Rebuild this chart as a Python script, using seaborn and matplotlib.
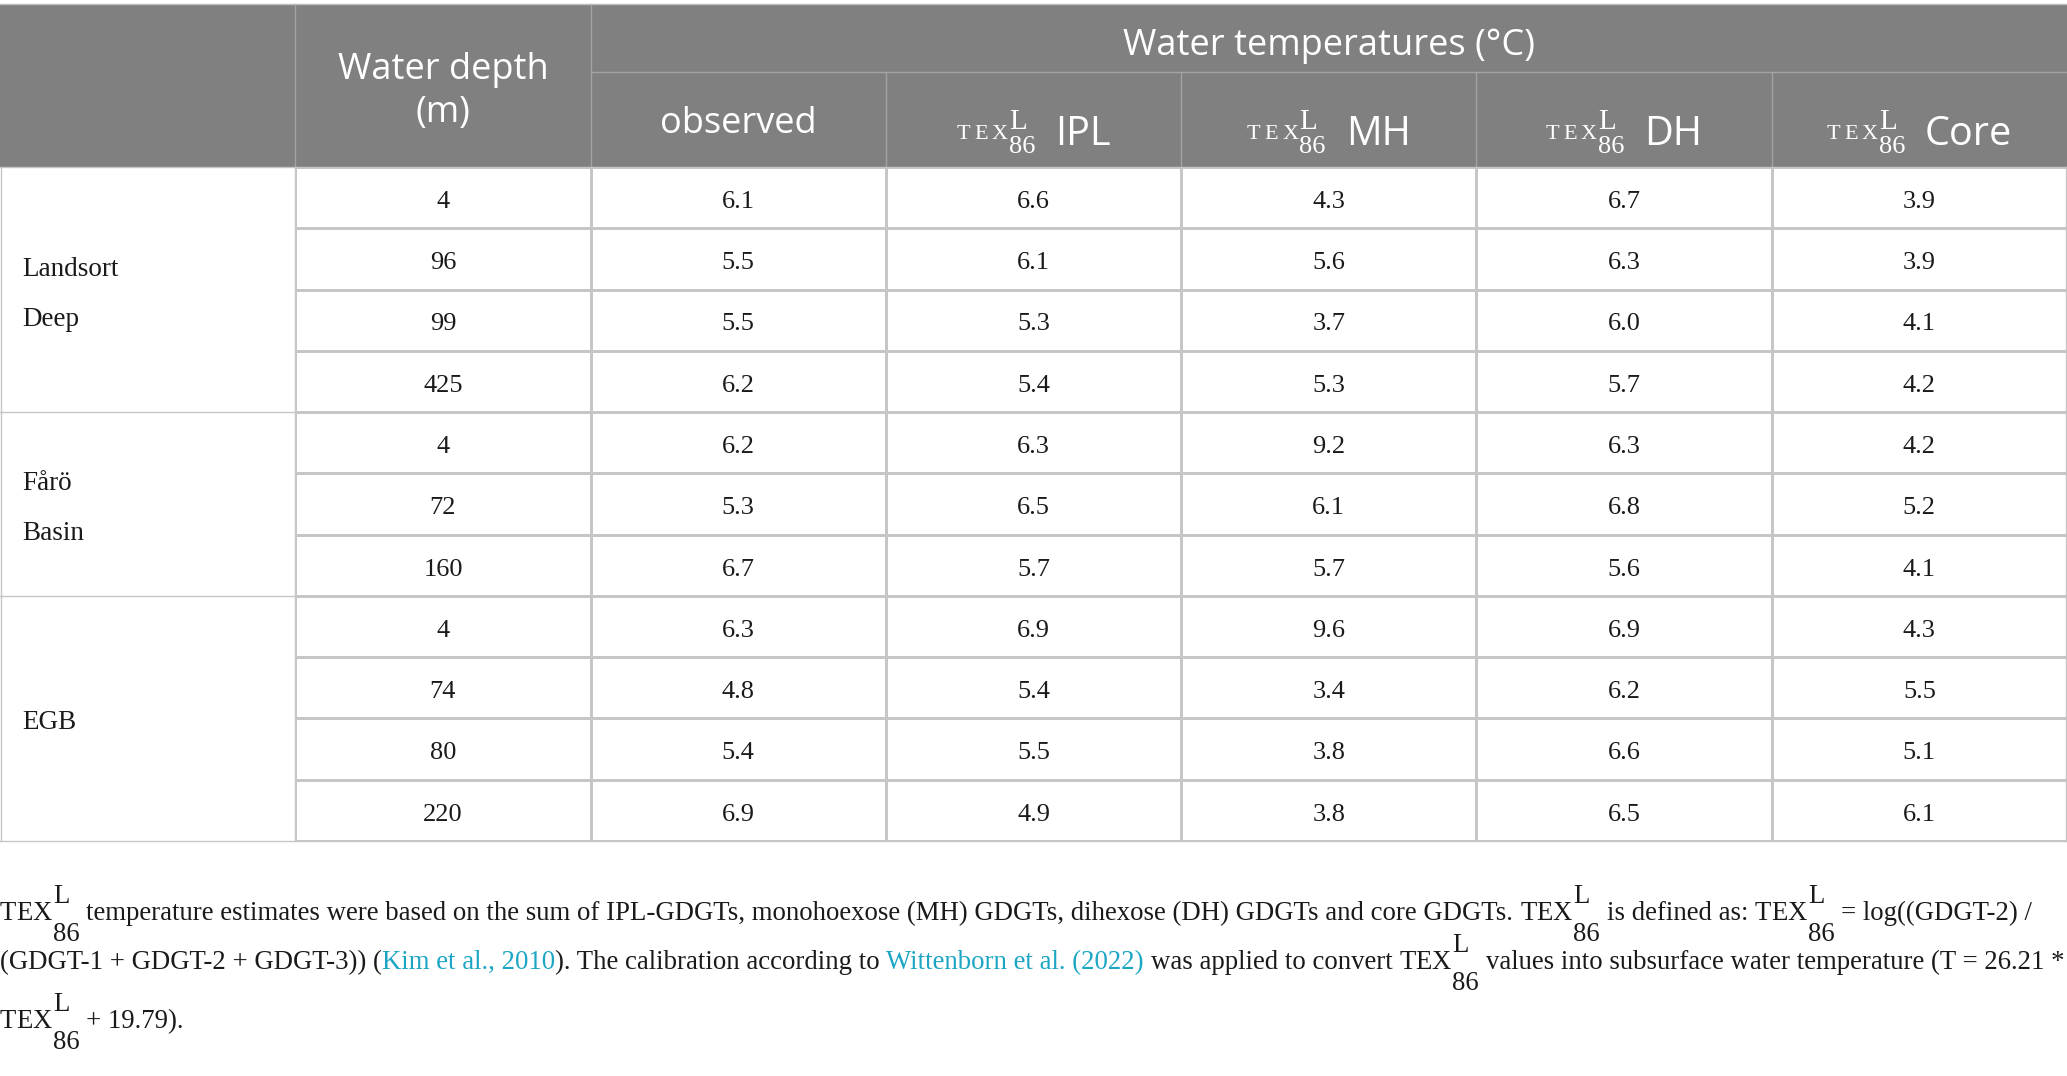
import matplotlib
matplotlib.use('Agg')
import matplotlib.pyplot as plt
import seaborn as sns
import numpy as np
import pandas as pd
from matplotlib.colors import ListedColormap
from matplotlib.patches import Rectangle

# Datos de la tabla
grupos = [['Landsort', 'Deep'], ['Fårö', 'Basin'], ['EGB']]
filas_por_grupo = [4, 3, 4]
profundidad = [4, 96, 99, 425, 4, 72, 160, 4, 74, 80, 220]
observado = [6.1, 5.5, 5.5, 6.2, 6.2, 5.3, 6.7, 6.3, 4.8, 5.4, 6.9]
tex_ipl = [6.6, 6.1, 5.3, 5.4, 6.3, 6.5, 5.7, 6.9, 5.4, 5.5, 4.9]
tex_mh = [4.3, 5.6, 3.7, 5.3, 9.2, 6.1, 5.7, 9.6, 3.4, 3.8, 3.8]
tex_dh = [6.7, 6.3, 6.0, 5.7, 6.3, 6.8, 5.6, 6.9, 6.2, 6.6, 6.5]
tex_core = [3.9, 3.9, 4.1, 4.2, 4.2, 5.2, 4.1, 4.3, 5.5, 5.1, 6.1]
subcolumnas = ['IPL', 'MH', 'DH', 'Core']

# Geometría (en píxeles)
W, H = 2067, 1076
col_x = np.linspace(0, W, 8)  # 7 columnas de igual ancho
y_top, y_mid, y_head, y_end = 4, 72, 167, 841
fila_h = (y_end - y_head) / len(profundidad)

GRIS = '#7f807f'
LINEA = '#c6c6c6'
LINEA_HEAD = '#a3a3a3'
AZUL = '#1ca6c4'
NEGRO = '#1a1a1a'
SERIF = 'Liberation Serif'
SANS = 'Open Sans'

fig = plt.figure(figsize=(W / 100, H / 100), dpi=100)

# Celdas de datos con heatmap de seaborn (todo blanco, solo anotaciones)
df = pd.DataFrame({'depth': profundidad, 'obs': observado, 'ipl': tex_ipl,
                   'mh': tex_mh, 'dh': tex_dh, 'core': tex_core})
etiquetas = np.empty(df.shape, dtype=object)
etiquetas[:, 0] = [str(v) for v in profundidad]
for j, col in enumerate(['obs', 'ipl', 'mh', 'dh', 'core'], start=1):
    etiquetas[:, j] = [f'{v:.1f}' for v in df[col]]

ax_hm = fig.add_axes([col_x[1] / W, 1 - y_end / H, (W - col_x[1]) / W, (y_end - y_head) / H])
sns.heatmap(df, ax=ax_hm, cmap=ListedColormap(['white']), cbar=False,
            annot=etiquetas, fmt='', linewidths=1.0, linecolor=LINEA,
            xticklabels=False, yticklabels=False,
            annot_kws=dict(fontsize=19, family=SERIF, color=NEGRO))
ax_hm.tick_params(length=0)
# bajar un poco los números dentro de la celda
for t in ax_hm.texts:
    x, y = t.get_position()
    t.set_position((x, y + 0.07))

# Capa superior en coordenadas de píxel
ax = fig.add_axes([0, 0, 1, 1])
ax.set_xlim(0, W)
ax.set_ylim(H, 0)
ax.axis('off')
ax.set_zorder(3)

renderer = fig.canvas.get_renderer()


def medir(texto, props):
    t = ax.text(0, 0, texto, **props)
    w = t.get_window_extent(renderer).width
    t.remove()
    return w


def ancho_tex(p):
    letras = sum(medir(c, dict(family=SERIF, fontsize=p['base'])) for c in 'TEX')
    return letras + 2 * p['track']


def ancho_item(it):
    tipo = it[0]
    if tipo == 'gap':
        return it[1]
    if tipo == 'txt':
        return medir(it[1], it[2])
    p = it[1]
    w_l = medir('L', dict(family=SERIF, fontsize=p['sup']))
    w_86 = medir('86', dict(family=SERIF, fontsize=p['sub']))
    return ancho_tex(p) + max(w_l, w_86) + 1


def dibujar_item(it, x, y):
    tipo = it[0]
    if tipo == 'txt':
        ax.text(x, y + it[3], it[1], ha='left', va='baseline', **it[2])
    elif tipo == 'tex':
        p = it[1]
        xx = x
        for c in 'TEX':
            ax.text(xx, y + p['dy_tex'], c, family=SERIF, fontsize=p['base'],
                    color=p['color'], ha='left', va='baseline')
            xx += medir(c, dict(family=SERIF, fontsize=p['base'])) + p['track']
        xs = x + ancho_tex(p) + 1
        ax.text(xs, y + p['dy_sup'], 'L', family=SERIF, fontsize=p['sup'],
                color=p['color'], ha='left', va='baseline')
        ax.text(xs, y + p['dy_sub'], '86', family=SERIF, fontsize=p['sub'],
                color=p['color'], ha='left', va='baseline')


def componer(items, x, y, centrado=False):
    anchos = [ancho_item(it) for it in items]
    x0 = x - sum(anchos) / 2 if centrado else x
    for it, w in zip(items, anchos):
        dibujar_item(it, x0, y)
        x0 += w


# Encabezado
ax.add_patch(Rectangle((0, y_top), W, y_head - y_top, fc=GRIS, ec='none'))
ax.plot([col_x[1], col_x[1]], [y_top, y_head], color=LINEA_HEAD, lw=1.0)
ax.plot([col_x[2], col_x[2]], [y_top, y_head], color=LINEA_HEAD, lw=1.0)
ax.plot([col_x[2], W], [y_mid, y_mid], color=LINEA_HEAD, lw=1.0)
for xc in col_x[3:7]:
    ax.plot([xc, xc], [y_mid, y_head], color=LINEA_HEAD, lw=1.0)

cab = dict(family=SANS, fontsize=26, color='white')
cab_sub = dict(family=SANS, fontsize=28.5, color='white')
ax.text((col_x[2] + W) / 2, 55, 'Water temperatures (°C)', ha='center', va='baseline', **cab)
ax.text((col_x[1] + col_x[2]) / 2, 79, 'Water depth', ha='center', va='baseline', **cab)
ax.text((col_x[1] + col_x[2]) / 2, 122, '(m)', ha='center', va='baseline', **cab)
ax.text((col_x[2] + col_x[3]) / 2, 133, 'observed', ha='center', va='baseline', **cab)

tex_cab = dict(base=16, sup=21, sub=19, track=4, dy_tex=-6, dy_sup=-16,
               dy_sub=8, color='white')
for i, nombre in enumerate(subcolumnas):
    xc = (col_x[3 + i] + col_x[4 + i]) / 2
    componer([('tex', tex_cab), ('gap', 20), ('txt', nombre, cab_sub, 0)], xc, 145, centrado=True)

# Columna de grupos
inicio = 0
for nombres, n in zip(grupos, filas_por_grupo):
    ya = y_head + inicio * fila_h
    yb = y_head + (inicio + n) * fila_h
    yc = (ya + yb) / 2
    if len(nombres) == 1:
        bases = [yc + 11]
    else:
        bases = [yc - 14, yc + 36]
    for nm, yy in zip(nombres, bases):
        ax.text(22, yy, nm, family=SERIF, fontsize=19.5, color=NEGRO, ha='left', va='baseline')
    if inicio + n < len(profundidad):
        ax.plot([0, col_x[1]], [yb, yb], color=LINEA, lw=1.0)
    inicio += n

# Bordes exteriores
ax.plot([1, 1], [y_head, y_end], color=LINEA, lw=1.0)
ax.plot([col_x[1], col_x[1]], [y_head, y_end], color=LINEA, lw=1.0)
ax.plot([W - 1, W - 1], [y_head, y_end], color=LINEA, lw=1.0)
ax.plot([0, W], [y_end, y_end], color=LINEA, lw=1.0)
ax.plot([0, W], [y_top, y_top], color='#bdbdbd', lw=1.0)
ax.plot([0, W], [y_head, y_head], color=LINEA, lw=1.0)

# Pie de tabla
pie = dict(family=SERIF, fontsize=19.25, color=NEGRO)
link = dict(family=SERIF, fontsize=19.25, color=AZUL)
tex_pie = dict(base=19.25, sup=19.25, sub=19.25, track=0, dy_tex=0, dy_sup=-17,
               dy_sub=21, color=NEGRO)
sp = medir('a a', pie) - medir('aa', pie)

linea1 = [('tex', tex_pie), ('gap', sp),
          ('txt', 'temperature estimates were based on the sum of IPL-GDGTs, monohoexose (MH) GDGTs, '
                  'dihexose (DH) GDGTs and core GDGTs.', pie, 0), ('gap', sp),
          ('tex', tex_pie), ('gap', sp), ('txt', 'is defined as:', pie, 0), ('gap', sp),
          ('tex', tex_pie), ('gap', sp), ('txt', '= log((GDGT-2) /', pie, 0)]
linea2 = [('txt', '(GDGT-1 + GDGT-2 + GDGT-3)) (', pie, 0),
          ('txt', 'Kim et al., 2010', link, 0),
          ('txt', '). The calibration according to', pie, 0), ('gap', sp),
          ('txt', 'Wittenborn et al. (2022)', link, 0), ('gap', sp),
          ('txt', 'was applied to convert', pie, 0), ('gap', sp),
          ('tex', tex_pie), ('gap', sp),
          ('txt', 'values into subsurface water temperature (T = 26.21 *', pie, 0)]
linea3 = [('tex', tex_pie), ('gap', sp), ('txt', '+ 19.79).', pie, 0)]

componer(linea1, 0, 920)
componer(linea2, 0, 969)
componer(linea3, 0, 1028)

fig.savefig('out.png', dpi=100, facecolor='white')
